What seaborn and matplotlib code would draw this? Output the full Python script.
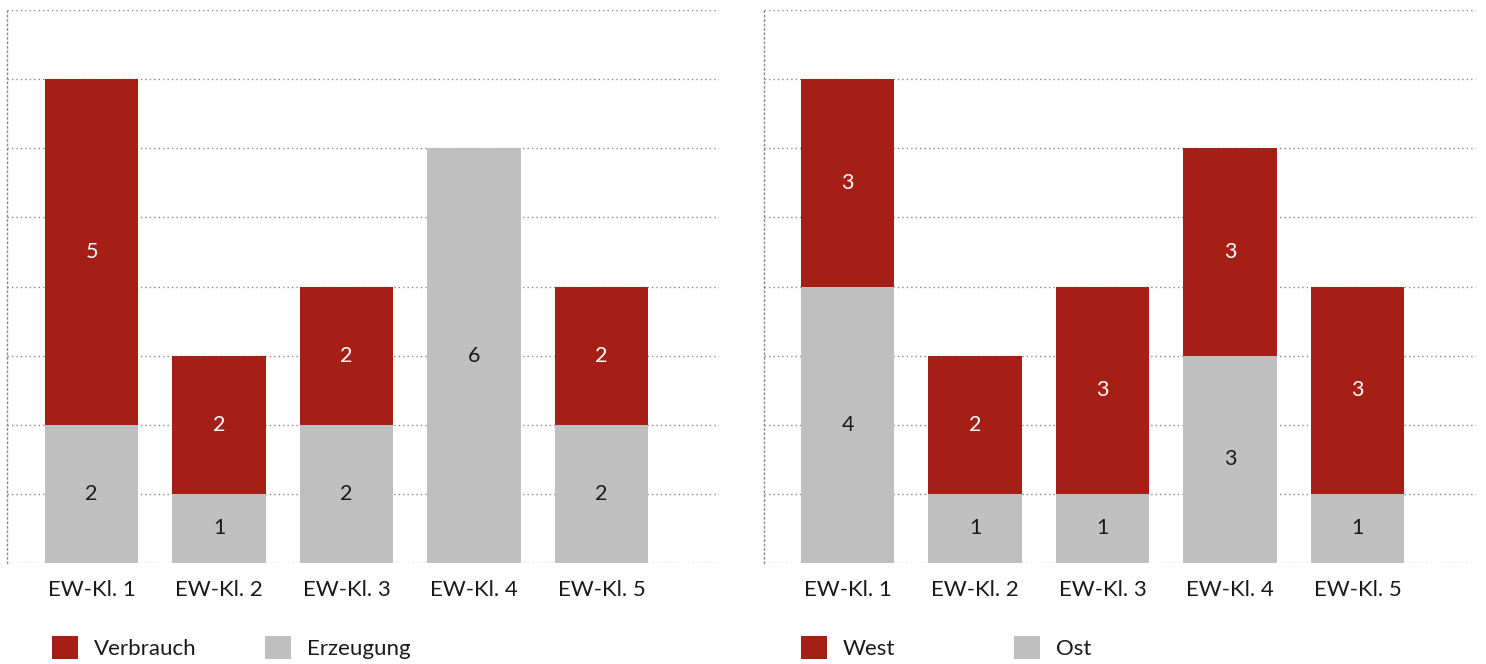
import numpy as np
import matplotlib
matplotlib.use("Agg")
import matplotlib.pyplot as plt
from matplotlib.patches import Patch
import seaborn as sns

# Data
categories = ["EW-Kl. 1", "EW-Kl. 2", "EW-Kl. 3", "EW-Kl. 4", "EW-Kl. 5"]
verbrauch = [5, 2, 2, 0, 2]
erzeugung = [2, 1, 2, 6, 2]
west = [3, 2, 3, 3, 3]
ost = [4, 1, 1, 3, 1]

RED = "#A61F17"
GREY = "#BEBFBE"
GRID = "#8a8a8a"
TEXT = "#1a1a1a"

sns.set_theme(style="white")
plt.rcParams["font.family"] = ["Lato", "DejaVu Sans"]

fig = plt.figure(figsize=(14.86, 6.64), dpi=100)
W, H = 1486, 664
ax_l = fig.add_axes([7 / W, 101 / H, 712 / W, 553 / H])
ax_r = fig.add_axes([764 / W, 101 / H, 712 / W, 553 / H])


def stacked(ax, top_vals, bottom_vals, top_name, bottom_name, legend_x, x0):
    totals = [a + b for a, b in zip(top_vals, bottom_vals)]
    sns.barplot(x=categories, y=totals, color=RED, saturation=1, width=0.73,
                linewidth=0, ax=ax, zorder=3)
    sns.barplot(x=categories, y=bottom_vals, color=GREY, saturation=1,
                width=0.73, linewidth=0, ax=ax, zorder=4)
    for i, (t, b) in enumerate(zip(top_vals, bottom_vals)):
        if b > 0:
            ax.text(i, b / 2, str(b), ha="center", va="center",
                    color=TEXT, fontsize=15.5, zorder=5)
        if t > 0:
            ax.text(i, b + t / 2, str(t), ha="center", va="center",
                    color="white", fontsize=15.5, zorder=5)
    ax.set_xlim(x0, x0 + 712 / 127.5)
    ax.set_ylim(0, 8)
    ax.set_yticks(range(0, 9))
    ax.yaxis.grid(True, linestyle=(0, (1, 2.2)), color=GRID, linewidth=1.0)
    ax.set_axisbelow(True)
    ax.tick_params(axis="y", left=False, labelleft=False)
    ax.tick_params(axis="x", bottom=False, pad=6, labelsize=16,
                   labelcolor=TEXT)
    for s in ["top", "right", "bottom"]:
        ax.spines[s].set_visible(False)
    ax.spines["left"].set_linestyle((0, (1, 2.2)))
    ax.spines["left"].set_color(GRID)
    ax.spines["left"].set_linewidth(1.0)
    ax.set_xlabel("")
    ax.set_ylabel("")

    # legend entries at fixed positions
    for k, (name, col) in enumerate([(top_name, RED), (bottom_name, GREY)]):
        leg = fig.legend(handles=[Patch(facecolor=col, edgecolor="none")],
                         labels=[name], loc="center left",
                         bbox_to_anchor=((legend_x + 213 * k) / W, 1 - 647.5 / H),
                         frameon=False, fontsize=16, borderpad=0,
                         borderaxespad=0, handlelength=1.19, handleheight=1.19,
                         handletextpad=0.7)
        for t in leg.get_texts():
            t.set_color(TEXT)


stacked(ax_l, verbrauch, erzeugung, "Verbrauch", "Erzeugung", 52, -0.663)
stacked(ax_r, west, ost, "West", "Ost", 801, -0.655)

fig.savefig("out.png", dpi=100)
